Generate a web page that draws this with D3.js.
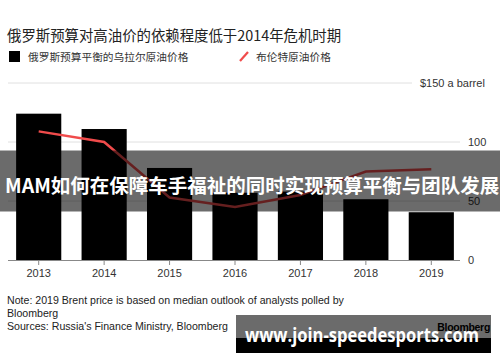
<!DOCTYPE html>
<html><head><meta charset="utf-8">
<script src="https://cdn.jsdelivr.net/npm/d3@7"></script>
<style>
html,body{margin:0;padding:0;background:#fff;}
svg{display:block;}
text{font-family:"Liberation Sans","Noto Sans CJK SC",Arial,sans-serif;}
.cjk{font-family:"Noto Sans CJK SC","Liberation Sans",sans-serif;}
</style></head>
<body>
<script>
const years = ["2013","2014","2015","2016","2017","2018","2019"];
const uralsBreakeven = [124, 111, 78, 57, 58, 51.5, 40.5];
const brentPrice = [109, 100, 53, 45, 55, 75, 77];
const yTicks = [0, 50, 100, 150];
const yTickLabels = ["0", "50", "100", "$150 a barrel"];

const W = 500, H = 362;
const svg = d3.select("body").append("svg").attr("width", W).attr("height", H);

const x = d3.scaleBand().domain(years).range([5, 465]).paddingInner(0.31).paddingOuter(0.17);
const y = d3.scaleLinear().domain([0, 150]).range([260, 83]);

// title
svg.append("text").attr("class","cjk").attr("x", 7).attr("y", 41)
  .attr("font-size", 14.4).attr("fill", "#222")
  .text("俄罗斯预算对高油价的依赖程度低于2014年危机时期");

// legend
svg.append("rect").attr("x", 9).attr("y", 51).attr("width", 11).attr("height", 11).attr("fill", "#000");
svg.append("text").attr("class","cjk").attr("x", 28).attr("y", 60.5).attr("font-size", 10.7).attr("fill", "#333")
  .text("俄罗斯预算平衡的乌拉尔原油价格");
svg.append("line").attr("x1", 240).attr("y1", 61).attr("x2", 248).attr("y2", 52)
  .attr("stroke", "#f04b4b").attr("stroke-width", 2.2);
svg.append("text").attr("class","cjk").attr("x", 256).attr("y", 60.5).attr("font-size", 10.7).attr("fill", "#333")
  .text("布伦特原油价格");

// gridlines
const grid = svg.append("g");
yTicks.forEach((t, i) => {
  if (t === 0) return;
  grid.append("line").attr("x1", 8).attr("x2", t === 150 ? 412 : 460)
    .attr("y1", y(t)).attr("y2", y(t)).attr("stroke", "#e0e0e0").attr("stroke-width", 1);
});
// y labels
yTicks.forEach((t, i) => {
  svg.append("text").attr("x", t === 150 ? 420 : 468).attr("y", y(t) + 4)
    .attr("font-size", 11).attr("fill", "#333").text(yTickLabels[i]);
});

// bars
svg.append("g").selectAll("rect").data(years).join("rect")
  .attr("x", d => x(d)).attr("width", x.bandwidth())
  .attr("y", (d, i) => y(uralsBreakeven[i]))
  .attr("height", (d, i) => y(0) - y(uralsBreakeven[i]))
  .attr("fill", "#000");

// line
const line = d3.line().x((d, i) => x(years[i]) + x.bandwidth() / 2).y(d => y(d));
svg.append("path").datum(brentPrice).attr("d", line)
  .attr("fill", "none").attr("stroke", "#f04b4b").attr("stroke-width", 2.5);

// x axis
const xAxis = d3.axisBottom(x).tickSize(5).tickSizeOuter(0);
const gx = svg.append("g").attr("transform", `translate(0,${y(0)})`).call(xAxis);
gx.select(".domain").attr("stroke", "#888").attr("d", "M8,0.5H460");
gx.selectAll(".tick line").attr("stroke", "#888");
gx.selectAll(".tick text").attr("font-size", 11).attr("fill", "#333").attr("dy", "0.85em")
  .style("font-family", "Liberation Sans, Arial, sans-serif");

// notes
const notes = ["Note: 2019 Brent price is based on median outlook of analysts polled by",
  "Bloomberg", "Sources: Russia's Finance Ministry, Bloomberg"];
notes.forEach((n, i) => {
  svg.append("text").attr("x", 7).attr("y", 304 + i * 13).attr("font-size", 10.6).attr("fill", "#222").text(n);
});
svg.append("text").attr("x", 490).attr("y", 331).attr("text-anchor", "end")
  .attr("font-size", 10.5).attr("font-weight", "bold").attr("fill", "#000")
  .attr("letter-spacing", -0.3).text("Bloomberg");

// overlay band
svg.append("rect").attr("x", 0).attr("y", 150.5).attr("width", W).attr("height", 61)
  .attr("fill", "#000").attr("opacity", 0.58);
svg.append("text").attr("class","cjk").attr("x", 5).attr("y", 193)
  .attr("font-size", 19.5).attr("font-weight", "bold").attr("fill", "#fff")
  .text("MAM如何在保障车手福祉的同时实现预算平衡与团队发展");

// watermark
svg.append("rect").attr("x", 236).attr("y", 315).attr("width", 255).attr("height", 23)
  .attr("fill", "#000").attr("opacity", 0.58);
svg.append("rect").attr("x", 236).attr("y", 338).attr("width", 255).attr("height", 15)
  .attr("fill", "#000");
svg.append("text").attr("x", 245).attr("y", 342)
  .attr("font-size", 19).attr("font-weight", "bold").attr("fill", "#fff")
  .style("font-family", "Open Sans, DejaVu Sans, sans-serif")
  .attr("textLength", 234).attr("lengthAdjust", "spacingAndGlyphs")
  .text("www.join-speedesports.com");
</script>
</body></html>
